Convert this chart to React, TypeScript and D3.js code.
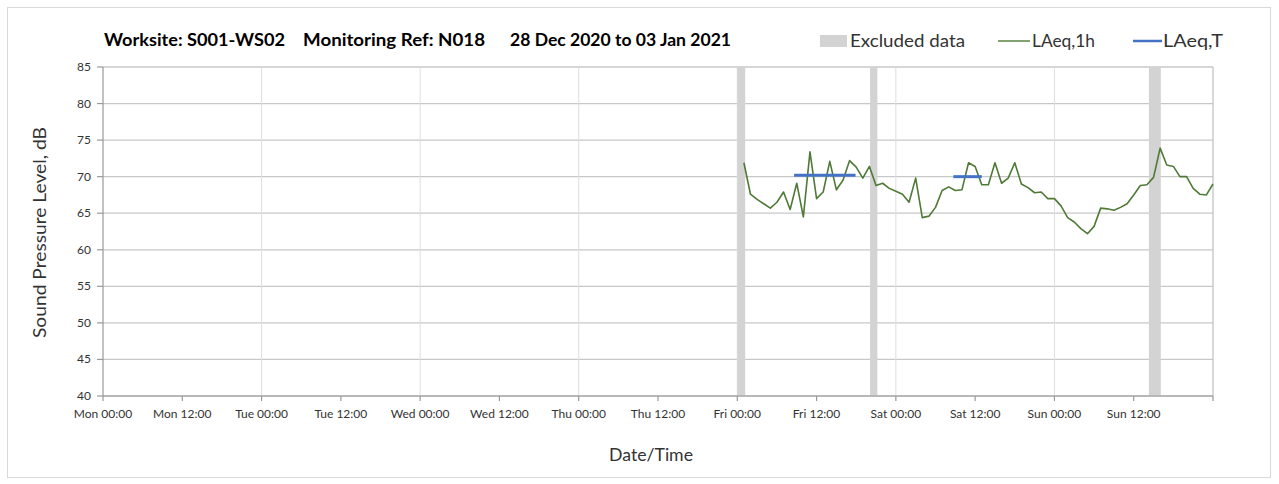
import * as d3 from "d3";
import * as React from "react";

// hours from Mon 00:00 (Mon 28 Dec 2020)
const xTickLabels = ["Mon 00:00", "Mon 12:00", "Tue 00:00", "Tue 12:00", "Wed 00:00", "Wed 12:00", "Thu 00:00", "Thu 12:00", "Fri 00:00", "Fri 12:00", "Sat 00:00", "Sat 12:00", "Sun 00:00", "Sun 12:00"];
const yTicks = [40, 45, 50, 55, 60, 65, 70, 75, 80, 85];

// LAeq,1h hourly values, Fri 01:00 .. Mon 00:00
const hourlyStart = 97;
const laeq1h = [
  71.9, 67.6, 66.9, 66.3, 65.7, 66.5, 67.9, 65.5, 69.1, 64.5, 73.4, 67.0,
  67.9, 72.1, 68.2, 69.5, 72.2, 71.3, 69.8, 71.4, 68.8, 69.1, 68.4, 68.0,
  67.6, 66.5, 69.8, 64.4, 64.6, 65.8, 68.1, 68.6, 68.1, 68.2, 71.9, 71.4,
  68.9, 68.9, 71.9, 69.1, 69.8, 71.9, 69.0, 68.5, 67.8, 67.9, 67.0, 67.0,
  66.0, 64.4, 63.8, 62.9, 62.2, 63.2, 65.7, 65.6, 65.4, 65.8, 66.3, 67.5,
  68.8, 68.9, 69.9, 73.9, 71.6, 71.4, 70.0, 70.0, 68.4, 67.6, 67.5, 69.0,
];

// LAeq,T periods [start hour, end hour, level]
const laeqT: [number, number, number][] = [
  [104.6, 113.9, 70.2],
  [128.7, 133.0, 70.0],
];

// excluded data periods [start hour, end hour]
const excluded: [number, number][] = [
  [96.0, 97.2],
  [116.1, 117.2],
  [158.3, 160.1],
];

const FONT = "Lato, 'Open Sans', sans-serif";

export default function App() {
  const left = 103, right = 1213, top = 67, bottom = 396;
  const x = d3.scaleLinear().domain([0, 168]).range([left, right]);
  const y = d3.scaleLinear().domain([40, 85]).range([bottom, top]);

  const pts: [number, number][] = laeq1h.map((v, i) => [hourlyStart + i, v]);
  const line = d3.line<[number, number]>()
    .x((d) => x(d[0]))
    .y((d) => y(d[1]));

  const tickHours = d3.range(0, 169, 12);
  const dayHours = d3.range(24, 168, 24);
  const adj = "spacingAndGlyphs";

  return (
    <svg width={1279} height={484} style={{ position: "absolute", left: 0, top: 0 }} fontFamily={FONT}>
      <rect x={0} y={0} width={1279} height={484} fill="#fff" />
      <rect x={7.5} y={7.5} width={1263} height={470} fill="#fff" stroke="#d9d9d9" />

      {/* title */}
      <g fontSize={16.5} fontWeight="bold" fill="#000">
        <text x={104} y={46} textLength={181} lengthAdjust={adj}>Worksite: S001-WS02</text>
        <text x={303} y={46} textLength={182} lengthAdjust={adj}>Monitoring Ref: N018</text>
        <text x={510} y={46} textLength={221} lengthAdjust={adj}>28 Dec 2020 to 03 Jan 2021</text>
      </g>

      {/* legend */}
      <rect x={820} y={35} width={27} height={12} fill="#d3d3d3" />
      <text x={850} y={47} fontSize={16.5} fill="#333" textLength={115} lengthAdjust={adj}>Excluded data</text>
      <line x1={998} x2={1030} y1={41} y2={41} stroke="#5a8040" strokeWidth={1.5} />
      <text x={1032} y={47} fontSize={16.5} fill="#333" textLength={63} lengthAdjust={adj}>LAeq,1h</text>
      <line x1={1133} x2={1162} y1={41} y2={41} stroke="#4472c4" strokeWidth={2.5} />
      <text x={1163} y={47} fontSize={16.5} fill="#333" textLength={60} lengthAdjust={adj}>LAeq,T</text>

      {/* horizontal gridlines */}
      {yTicks.map((t) => (
        <line key={"gy" + t} x1={left} x2={right} y1={y(t)} y2={y(t)} stroke="#c8c8c8" strokeWidth={1.3} />
      ))}
      {/* daily vertical gridlines */}
      {dayHours.map((h) => (
        <line key={"gx" + h} x1={x(h)} x2={x(h)} y1={top} y2={bottom} stroke="#dedede" strokeWidth={1} />
      ))}
      <line x1={right} x2={right} y1={top} y2={bottom} stroke="#bfbfbf" strokeWidth={1.2} />

      {/* excluded bands */}
      {excluded.map((e, i) => (
        <rect key={"ex" + i} x={x(e[0])} y={top} width={x(e[1]) - x(e[0])} height={bottom - top} fill="#d3d3d3" />
      ))}

      {/* axes */}
      <line x1={left} x2={left} y1={top} y2={bottom} stroke="#999" strokeWidth={1.2} />
      <line x1={left} x2={right} y1={bottom} y2={bottom} stroke="#999" strokeWidth={1.2} />
      {yTicks.map((t) => (
        <g key={"ty" + t}>
          <line x1={left - 6} x2={left} y1={y(t)} y2={y(t)} stroke="#999" strokeWidth={1.2} />
          <text x={91} y={y(t) + 4} fontSize={12} textAnchor="end" fill="#333">{t}</text>
        </g>
      ))}
      {tickHours.map((h, i) => (
        <g key={"tx" + h}>
          <line x1={x(h)} x2={x(h)} y1={bottom} y2={bottom + 5} stroke="#999" strokeWidth={1.2} />
          {xTickLabels[i] && (
            <text x={x(h)} y={418} fontSize={12} textAnchor="middle" fill="#333">{xTickLabels[i]}</text>
          )}
        </g>
      ))}

      {/* series */}
      <path d={line(pts) || ""} fill="none" stroke="#4e7a36" strokeWidth={1.6} strokeLinejoin="round" />
      {laeqT.map((s, i) => (
        <line key={"lt" + i} x1={x(s[0])} x2={x(s[1])} y1={y(s[2])} y2={y(s[2])} stroke="#4472c4" strokeWidth={3} />
      ))}

      {/* axis titles */}
      <text transform={`translate(46,${(top + bottom) / 2 + 1}) rotate(-90)`} fontSize={17} textAnchor="middle" fill="#333" textLength={211} lengthAdjust={adj}>
        Sound Pressure Level, dB
      </text>
      <text x={651} y={461} fontSize={17} textAnchor="middle" fill="#333" textLength={84} lengthAdjust={adj}>Date/Time</text>
    </svg>
  );
}
